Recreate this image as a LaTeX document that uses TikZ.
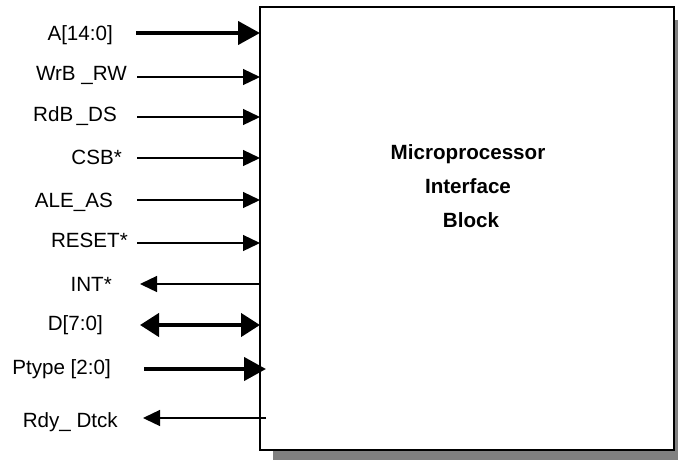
\documentclass[tikz,border=0pt]{standalone}
\usepackage{fontspec}
\setmainfont{Liberation Sans}
\usetikzlibrary{arrows.meta}
\definecolor{shadowgray}{RGB}{128,128,128}
\begin{document}
\begin{tikzpicture}[x=1pt,y=-1pt,
  lab/.style={inner sep=0pt, anchor=east, text height=14.5pt, text depth=0pt, font=\fontsize{20.6}{21}\selectfont},
  sig/.style={line width=1.3pt, -{Triangle[length=17pt,width=16pt]}},
  bus/.style={line width=4.2pt, -{Triangle[length=22pt,width=23pt]}},
  bibus/.style={line width=4.2pt, {Triangle[length=19pt,width=23pt]}-{Triangle[length=19pt,width=23pt]}}]
\useasboundingbox (0,0) rectangle (678,459);
\clip (0,0) rectangle (678,459);
\fill[shadowgray] (273,20) rectangle (689,463);
\node[draw, line width=1.5pt, fill=white, inner sep=0pt, outer sep=0pt,
      minimum width=414pt, minimum height=443pt, anchor=north west] (box) at (260,7) {};
\node[align=center, font=\bfseries\fontsize{20.6}{34}\selectfont] (title) at (468,186)
  {Microprocessor\\Interface\\\hspace*{6pt}Block};

% labels
\node[lab] (lA) at (113,33) {A[14:0]};
\node[lab] (lW) at (127,73) {WrB \_RW};
\node[lab] (lR) at (117,114) {RdB\,\_DS};
\node[lab] (lC) at (122,157) {CSB*};
\node[lab] (lL) at (113,200) {ALE\_AS};
\node[lab] (lS) at (128,240) {RESET*};
\node[lab] (lI) at (112,284) {INT*};
\node[lab] (lD) at (103,323) {D[7:0]};
\node[lab] (lP) at (111,367) {Ptype [2:0]};
\node[lab] (lY) at (118,420) {Rdy\_ Dtck};

% connector free ends
\coordinate (cA) at (136,33);
\coordinate (cW) at (137,77);
\coordinate (cR) at (137,117);
\coordinate (cC) at (137,158);
\coordinate (cL) at (137,200);
\coordinate (cS) at (137,243);
\coordinate (cI) at (140,284);
\coordinate (cD) at (140,325);
\coordinate (cP) at (144,369);
\coordinate (cY) at (143,418);

\draw[bus] (cA) -- (box.west |- cA);
\draw[sig] (cW) -- (box.west |- cW);
\draw[sig] (cR) -- (box.west |- cR);
\draw[sig] (cC) -- (box.west |- cC);
\draw[sig] (cL) -- (box.west |- cL);
\draw[sig] (cS) -- (box.west |- cS);
\draw[sig] (box.west |- cI) -- (cI);
\draw[bibus] (cD) -- (box.west |- cD);
\draw[bus] (cP) -- ([xshift=6pt]box.west |- cP);
\draw[sig] ([xshift=6pt]box.west |- cY) -- (cY);
\end{tikzpicture}
\end{document}
